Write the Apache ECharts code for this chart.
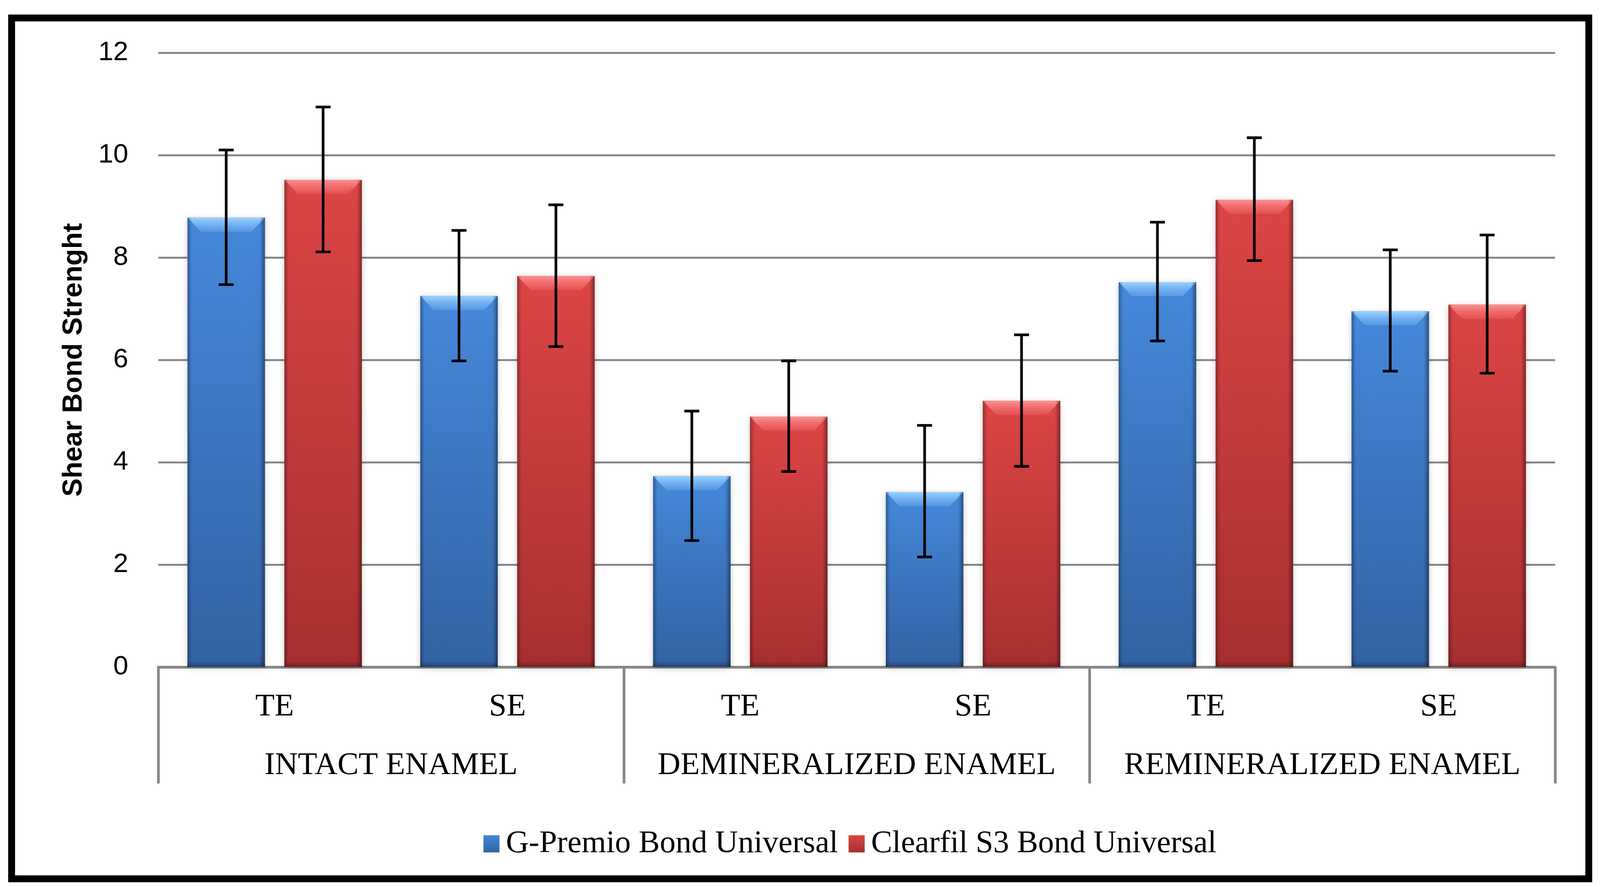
<!DOCTYPE html>
<html>
<head>
<meta charset="utf-8">
<style>
  html, body { margin: 0; padding: 0; background: #ffffff; overflow: hidden; }
  #chart { width: 100vw; height: 100vh; }
</style>
<script src="https://cdn.jsdelivr.net/npm/echarts@6/dist/echarts.min.js"></script>
</head>
<body>
<div id="chart"></div>
<script>
// ---- data ----
const subCategories = ['TE', 'SE', 'TE', 'SE', 'TE', 'SE'];
const groupCategories = ['INTACT ENAMEL', 'DEMINERALIZED ENAMEL', 'REMINERALIZED ENAMEL'];
const seriesNames = ['G-Premio Bond Universal', 'Clearfil S3 Bond Universal'];
const gPremioMean = [8.78, 7.25, 3.73, 3.42, 7.52, 6.95];
const gPremioLow  = [7.47, 5.98, 2.47, 2.15, 6.37, 5.78];
const gPremioHigh = [10.10, 8.53, 5.00, 4.72, 8.69, 8.15];
const clearfilMean = [9.52, 7.64, 4.89, 5.20, 9.13, 7.08];
const clearfilLow  = [8.11, 6.26, 3.82, 3.92, 7.94, 5.74];
const clearfilHigh = [10.94, 9.03, 5.98, 6.49, 10.34, 8.44];
const yTicks = { min: 0, max: 12, interval: 2 };

// ---- layout scale (designed for 4277 x 2270, fitted to the viewport) ----
const W = window.innerWidth || 4277;
const H = window.innerHeight || 2270;
const sx = W / 4277;
const sy = H / 2270;
const sf = Math.sqrt(sx * sy);

// ---- styling ----
const BAR_FRAC = 0.333;
const GAP_FRAC = 0.25;
const G = echarts.graphic;

const blueFill = new G.LinearGradient(0, 0, 0, 1, [
  { offset: 0, color: '#4588da' }, { offset: 1, color: '#3262a2' }]);
const redFill = new G.LinearGradient(0, 0, 0, 1, [
  { offset: 0, color: '#dd4545' }, { offset: 1, color: '#a62f2f' }]);

function barGeom(api, idx, value, side) {
  const cw = api.size([1, 0])[0];
  const bw = cw * BAR_FRAC;
  const gap = bw * GAP_FRAC;
  const base = api.coord([idx, 0]);
  const top = api.coord([idx, value]);
  const cx = base[0] + side * (bw + gap) / 2;
  return { x0: cx - bw / 2, x1: cx + bw / 2, yTop: top[1], yBase: base[1], cx: cx };
}

function bevelSeries(values, side, light) {
  return {
    type: 'custom',
    name: 'bevel' + side,
    z: 3,
    silent: true,
    data: values.map((v, i) => [i, v]),
    encode: { x: 0, y: 1 },
    renderItem: function (params, api) {
      const idx = api.value(0), val = api.value(1);
      const g = barGeom(api, idx, val, side);
      const bx = 36 * sx, by = 36 * sy;
      const h = g.yBase - g.yTop;
      return {
        type: 'group',
        children: [
          { type: 'polygon',
            shape: { points: [[g.x0, g.yTop], [g.x1, g.yTop], [g.x1 - bx, g.yTop + by], [g.x0 + bx, g.yTop + by]] },
            style: { fill: new G.LinearGradient(0, 0, 0, 1, [
              { offset: 0, color: light[0] }, { offset: 1, color: light[1] }]) } },
          { type: 'rect', shape: { x: g.x0, y: g.yTop, width: 12 * sx, height: h },
            style: { fill: new G.LinearGradient(0, 0, 1, 0, [
              { offset: 0, color: 'rgba(0,0,0,0.30)' }, { offset: 1, color: 'rgba(0,0,0,0)' }]) } },
          { type: 'rect', shape: { x: g.x1 - 14 * sx, y: g.yTop, width: 14 * sx, height: h },
            style: { fill: new G.LinearGradient(0, 0, 1, 0, [
              { offset: 0, color: 'rgba(0,0,0,0)' }, { offset: 1, color: 'rgba(0,0,0,0.40)' }]) } },
          { type: 'rect', shape: { x: g.x0, y: g.yBase - 16 * sy, width: g.x1 - g.x0, height: 16 * sy },
            style: { fill: new G.LinearGradient(0, 0, 0, 1, [
              { offset: 0, color: 'rgba(0,0,0,0)' }, { offset: 1, color: 'rgba(0,0,0,0.30)' }]) } }
        ]
      };
    }
  };
}

function errorSeries(low, high, side) {
  return {
    type: 'custom',
    name: 'err' + side,
    z: 5,
    silent: true,
    data: low.map((l, i) => [i, l, high[i]]),
    encode: { x: 0, y: [1, 2] },
    renderItem: function (params, api) {
      const idx = api.value(0);
      const gLo = barGeom(api, idx, api.value(1), side);
      const gHi = barGeom(api, idx, api.value(2), side);
      const cx = gLo.cx, yl = gLo.yTop, yh = gHi.yTop, hw = 20 * sx;
      const st = { stroke: '#000', lineWidth: 7 * sf };
      return {
        type: 'group',
        children: [
          { type: 'line', shape: { x1: cx, y1: yl, x2: cx, y2: yh }, style: st },
          { type: 'line', shape: { x1: cx - hw, y1: yh, x2: cx + hw, y2: yh }, style: st },
          { type: 'line', shape: { x1: cx - hw, y1: yl, x2: cx + hw, y2: yl }, style: st }
        ]
      };
    }
  };
}

const barCommon = {
  type: 'bar',
  barWidth: (BAR_FRAC * 100) + '%',
  barGap: (GAP_FRAC * 100) + '%',
  z: 2
};

const catFont = Math.round(83 * sf);
const chart = echarts.init(document.getElementById('chart'), null, { renderer: 'canvas' });
chart.setOption({
  backgroundColor: '#ffffff',
  animation: false,
  grid: { left: 423 * sx, right: 120 * sx, top: 135 * sy, bottom: 563 * sy, containLabel: false },
  legend: {
    data: seriesNames,
    left: 1287 * sx,
    top: 2114 * sy,
    itemWidth: 43 * sx,
    itemHeight: 44 * sy,
    itemGap: 28 * sx,
    icon: 'rect',
    textStyle: { fontFamily: 'Liberation Serif', fontSize: catFont, color: '#000', padding: [0, 0, 0, 12 * sx] }
  },
  xAxis: [
    {
      type: 'category',
      data: subCategories,
      position: 'bottom',
      axisLine: { show: true, lineStyle: { color: '#878787', width: 7 * sf } },
      axisTick: { show: false },
      axisLabel: { interval: 0, margin: 62 * sy, fontFamily: 'Liberation Serif', fontSize: catFont, color: '#000' },
      splitLine: { show: false }
    },
    {
      type: 'category',
      data: groupCategories,
      position: 'bottom',
      offset: 0,
      axisLine: { show: false },
      axisTick: { show: true, interval: 0, length: 298 * sy, lineStyle: { color: '#878787', width: 7 * sf } },
      axisLabel: { interval: 0, margin: 212 * sy, fontFamily: 'Liberation Serif', fontSize: catFont, color: '#000' },
      splitLine: { show: false }
    }
  ],
  yAxis: {
    type: 'value',
    min: yTicks.min,
    max: yTicks.max,
    interval: yTicks.interval,
    axisLine: { show: false },
    axisTick: { show: false },
    splitLine: { show: true, lineStyle: { color: '#878787', width: 5 * sf } },
    axisLabel: { margin: 80 * sx, fontFamily: 'Liberation Sans', fontSize: Math.round(70 * sf), color: '#000' },
    name: 'Shear Bond Strenght',
    nameLocation: 'middle',
    nameGap: 188 * sx,
    nameTextStyle: { fontFamily: 'Liberation Sans', fontWeight: 'bold', fontSize: Math.round(72 * sf), color: '#000' }
  },
  series: [
    Object.assign({}, barCommon, {
      name: seriesNames[0],
      data: gPremioMean,
      itemStyle: { color: blueFill, shadowBlur: 16 * sf, shadowColor: 'rgba(0,0,0,0.22)', shadowOffsetY: 3 }
    }),
    Object.assign({}, barCommon, {
      name: seriesNames[1],
      data: clearfilMean,
      itemStyle: { color: redFill, shadowBlur: 16 * sf, shadowColor: 'rgba(0,0,0,0.22)', shadowOffsetY: 3 }
    }),
    bevelSeries(gPremioMean, -1, ['rgba(160,215,255,0.95)', 'rgba(110,175,245,0.45)']),
    bevelSeries(clearfilMean, 1, ['rgba(255,150,150,0.95)', 'rgba(240,100,100,0.45)']),
    errorSeries(gPremioLow, gPremioHigh, -1),
    errorSeries(clearfilLow, clearfilHigh, 1)
  ],
  graphic: [
    { type: 'rect', z: 100, silent: true,
      shape: { x: 31 * sx, y: 46 * sy, width: 4216 * sx, height: 2203 * sy },
      style: { fill: 'none', stroke: '#000', lineWidth: 18 * sf } }
  ]
});
</script>
</body>
</html>
